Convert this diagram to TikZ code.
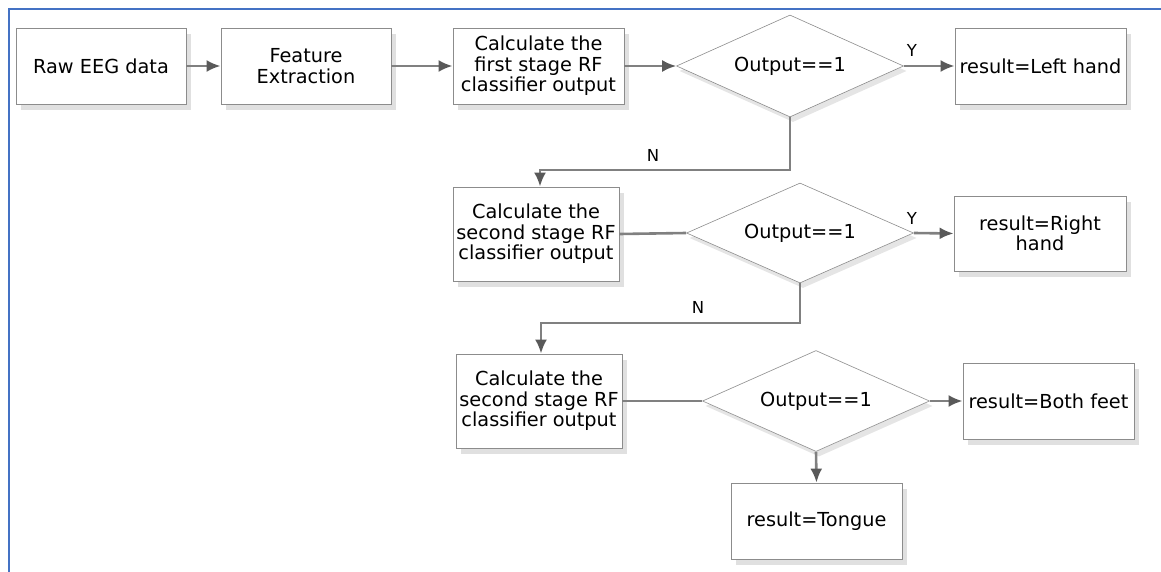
\documentclass[tikz,border=0pt]{standalone}
\usepackage{fontspec}
\setmainfont{DejaVu Sans}
\usetikzlibrary{shapes.geometric,arrows.meta,shadows,calc}
\definecolor{frameblue}{HTML}{4472C4}
\begin{document}
\begin{tikzpicture}[x=1pt,y=-1pt,
  txt/.style={font=\fontsize{19.3}{20.5}\selectfont},
  box/.style={txt, draw=black!45, line width=0.8pt, fill=white,
    minimum width=170pt, minimum height=76pt, inner sep=1pt, align=center,
    drop shadow={shadow xshift=5pt, shadow yshift=-6pt, fill=black!12, opacity=1}},
  dia/.style={txt, draw=black!45, line width=0.6pt, fill=white, shape=diamond,
    aspect=2.25, minimum width=227pt, minimum height=101pt, inner sep=0pt,
    drop shadow={shadow xshift=3pt, shadow yshift=-5pt, fill=black!10, opacity=1}},
  conn/.style={draw=black!50, line width=2.6pt},
  arr/.style={conn, -{Latex[length=14pt,width=12pt,color=black!65]}},
  lab/.style={font=\fontsize{16.5}{16.5}\selectfont, inner sep=0pt}
]
\useasboundingbox (0,0) rectangle (1161,572);
\draw[frameblue, line width=2pt] (1161,9) -- (9,9) -- (9,572);

% row 1
\node[box] (raw) at (101,66) {Raw EEG data};
\node[box] (fe) at (306,66) {Feature\\Extraction};
\node[box, minimum width=171pt] (c1) at (538.5,66) {Calculate the\\first stage RF\\classifier output};
\node[dia, minimum height=102pt] (d1) at (790,66) {Output==1};
\node[box, minimum width=171pt] (r1) at (1040.5,66) {result=Left hand};

% row 2
\node[box, minimum width=166pt, minimum height=94pt] (c2) at (536,234) {Calculate the\\second stage RF\\classifier output};
\node[dia, minimum height=100pt] (d2) at (800,233) {Output==1};
\node[box, minimum width=172pt, minimum height=75pt] (r2) at (1040,233.5) {result=Right\\hand};

% row 3
\node[box, minimum width=166pt, minimum height=94pt] (c3) at (539,401) {Calculate the\\second stage RF\\classifier output};
\node[dia] (d3) at (816,401) {Output==1};
\node[box, minimum width=171pt] (r3) at (1048.5,401) {result=Both feet};
\node[box, minimum width=171pt] (r4) at (816.5,521) {result=Tongue};

% connectors
\draw[arr] (raw.east) -- (fe.west);
\draw[arr] (fe.east) -- (c1.west);
\draw[arr] (c1.east) -- (d1.west);
\draw[arr] (d1.east) -- (r1.west);
\node[lab] (y1) at (912,50) {Y};

\coordinate (k1) at (540,170);
\draw[arr] (d1.south) |- (k1) -- (k1 |- c2.north);
\node[lab] (n1) at (653,155) {N};

\draw[conn] (c2.east) -- (d2.west);
\draw[arr] (d2.east) -- (r2.west);
\node[lab] (y2) at (912,218) {Y};

\coordinate (k2) at (541,323);
\draw[arr] (d2.south) |- (k2) -- (k2 |- c3.north);
\node[lab] (n2) at (698,307) {N};

\draw[conn] (c3.east) -- (d3.west);
\draw[arr] (d3.east) -- (r3.west);
\draw[arr] (d3.south) -- (r4.north);
\end{tikzpicture}
\end{document}
